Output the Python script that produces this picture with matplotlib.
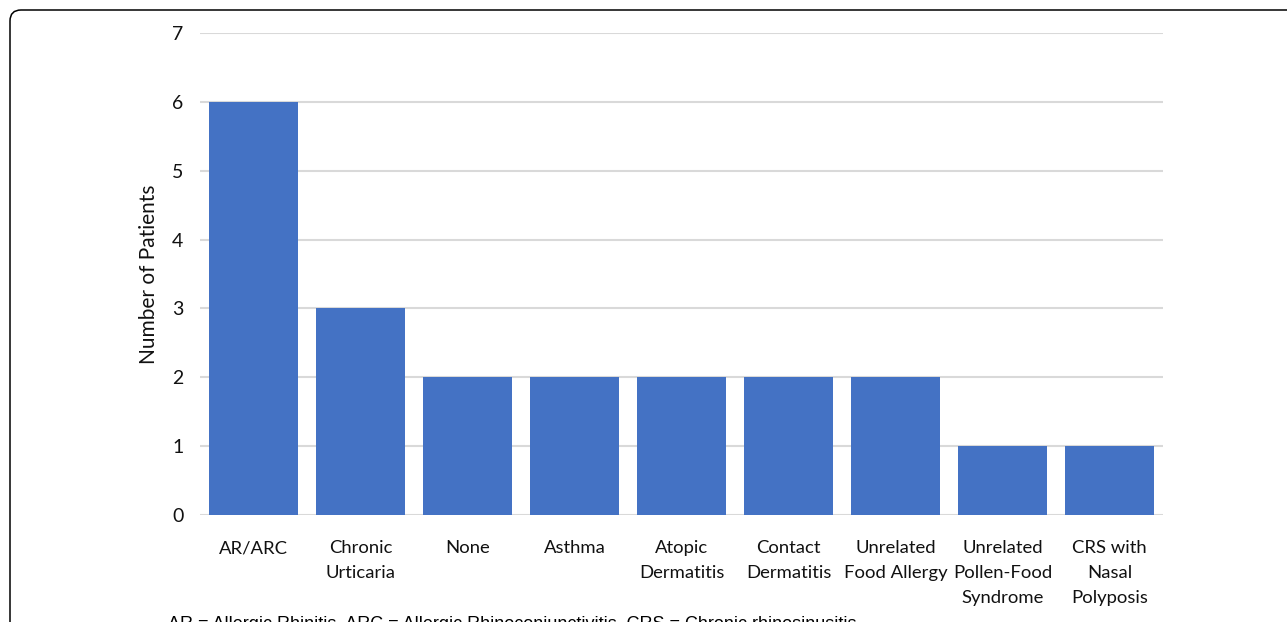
import matplotlib.pyplot as plt
from matplotlib.patches import FancyBboxPatch

plt.rcParams['font.family'] = ['Lato', 'DejaVu Sans']

# comorbidities and patient counts
conditions = ["AR/ARC", "Chronic\nUrticaria", "None", "Asthma", "Atopic\nDermatitis",
              "Contact\nDermatitis", "Unrelated\nFood Allergy",
              "Unrelated\nPollen-Food\nSyndrome", "CRS with\nNasal\nPolyposis"]
patients = [6, 3, 2, 2, 2, 2, 2, 1, 1]
yticks = [0, 1, 2, 3, 4, 5, 6, 7]

fig = plt.figure(figsize=(12.87, 6.22), dpi=100)
ax = fig.add_axes([200/1287, 1-515/622, 963/1287, 482/622])

x = range(len(conditions))
ax.bar(x, patients, width=0.825, color="#4472c4", zorder=2)

ax.set_xlim(-0.5, len(conditions)-0.5)
ax.set_ylim(0, 7)
ax.set_yticks(yticks)
ax.set_xticks(list(x))
ax.set_xticklabels(conditions, fontsize=13.3, linespacing=1.7, color="#111111")
ax.tick_params(axis='x', length=0, pad=18)
ax.tick_params(axis='y', length=0, pad=12, labelsize=14, labelcolor="#111111")
ax.grid(axis='y', color="#d9d9d9", linewidth=1.5, zorder=0)
for s in ax.spines.values():
    s.set_visible(False)
ax.set_ylabel("Number of Patients", fontsize=15, labelpad=9, color="#111111")

# frame round the figure
frame = FancyBboxPatch((10, -40), 1320, 612+40, boxstyle="round,pad=0,rounding_size=11",
                       transform=None, fill=False, edgecolor="black", linewidth=1.1)
fig.patches.append(frame)

fig.text(168/1287, 1-616/622, "AR = Allergic Rhinitis, ARC = Allergic Rhinoconjunctivitis, CRS = Chronic rhinosinusitis",
         fontsize=13, family=['Liberation Sans'], va='top', ha='left')

fig.savefig("out.png", dpi=100)
